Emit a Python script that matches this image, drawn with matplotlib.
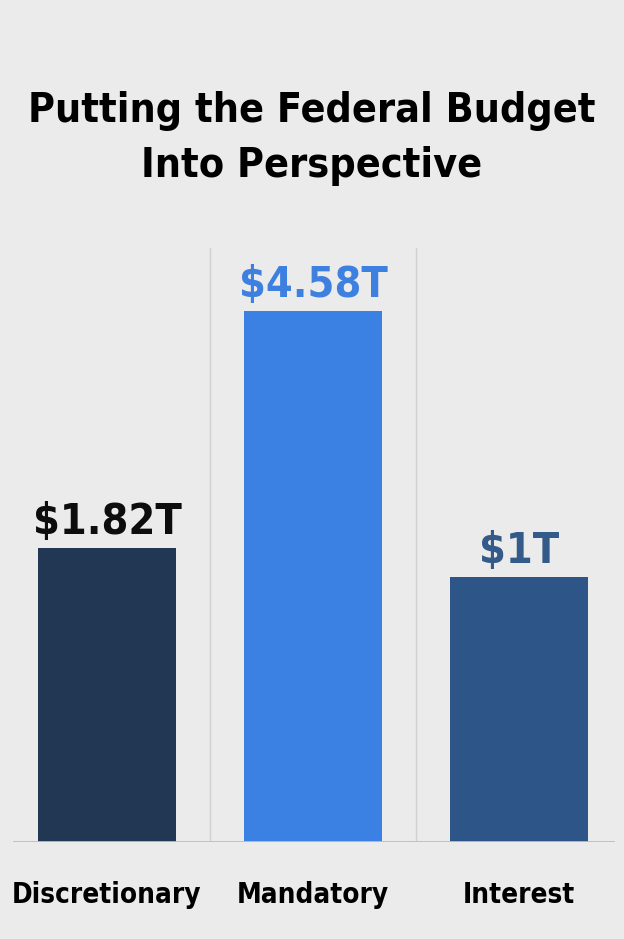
import matplotlib
matplotlib.use('Agg')
import matplotlib.pyplot as plt

# data
categories = ['Discretionary', 'Mandatory', 'Interest']
value_labels = ['$1.82T', '$4.58T', '$1T']
# bar heights as drawn (the picture is not to scale), in the same units as $4.58T
bar_heights = [2.54, 4.58, 2.29]

bar_colors = ['#223754', '#3b80e3', '#2e5587']
label_colors = ['#0d0d0d', '#3d80e0', '#345a8a']
bg = '#ebebeb'

plt.rcParams['font.family'] = ['DejaVu Sans']

fig = plt.figure(figsize=(6.24, 9.39), dpi=100, facecolor=bg)
ax = fig.add_axes([13 / 624, (939 - 842) / 939, 602 / 624, 594 / 939])
ax.set_facecolor(bg)

x = range(len(categories))
ax.bar(x, bar_heights, width=0.67, color=bar_colors, zorder=3)

ax.set_xlim(-0.456, 2.466)
ax.set_ylim(0, 4.58 * 594 / 531)

# thin separators between the columns
for sep in [0.5, 1.5]:
    ax.axvline(sep, color='#d0d0d0', lw=1, zorder=1)
ax.axhline(0, color='#bdbdbd', lw=1.3, zorder=4)

for xi, h, lab, c in zip(x, bar_heights, value_labels, label_colors):
    ax.annotate(lab, (xi, h), xytext=(0, 10), textcoords='offset points',
                ha='center', va='baseline', fontsize=31, fontweight='bold',
                color=c, fontstretch='condensed')

ax.set_xticks(list(x))
ax.set_xticklabels(categories, fontsize=20, fontweight='bold',
                   fontstretch='condensed')
ax.tick_params(axis='x', length=0, pad=28)
ax.set_yticks([])
for s in ax.spines.values():
    s.set_visible(False)

fig.text(0.5, 1 - 111 / 939, 'Putting the Federal Budget', ha='center',
         va='center', fontsize=29.5, fontweight='bold', fontstretch='condensed')
fig.text(0.5, 1 - 166 / 939, 'Into Perspective', ha='center',
         va='center', fontsize=29.5, fontweight='bold', fontstretch='condensed')

fig.savefig('out.png', dpi=100, facecolor=bg)
